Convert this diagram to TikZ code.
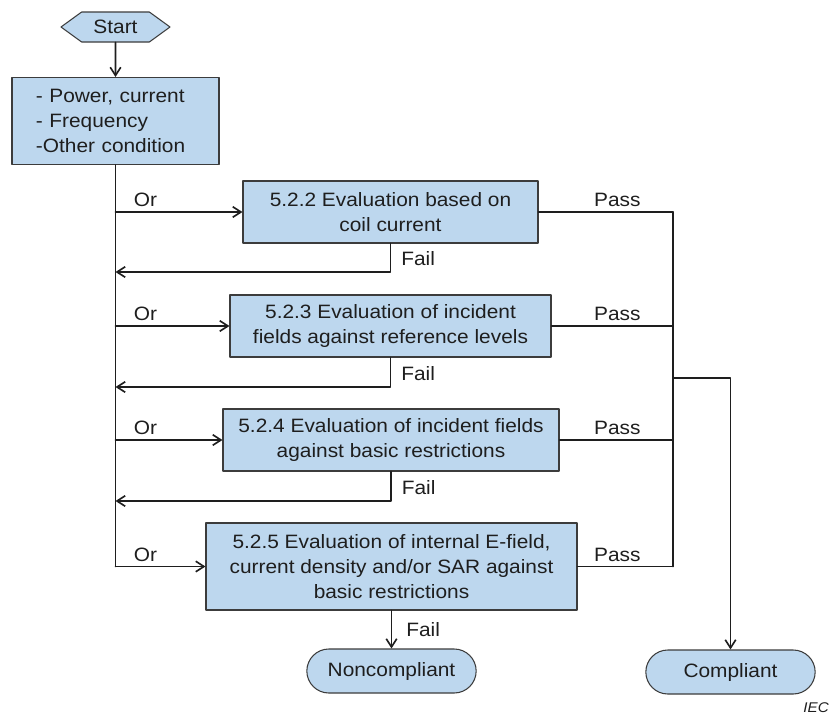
\documentclass[tikz,border=0pt]{standalone}
\usepackage{fontspec}
\setmainfont{Liberation Sans}[FakeStretch=1.08]
\usetikzlibrary{shapes.symbols,shapes.misc,arrows.meta}
\definecolor{boxblue}{RGB}{189,215,238}
\definecolor{edge}{RGB}{60,60,60}
\definecolor{ink}{RGB}{30,30,30}
\tikzset{
  flowbox/.style={draw=edge,fill=boxblue,line width=0.9pt,align=center,inner sep=2pt},
  startbox/.style={flowbox,signal,signal to=east and west,signal pointer angle=72,minimum width=3.27cm,minimum height=0.9cm},
  endbox/.style={flowbox,rounded rectangle,minimum width=5.22cm,minimum height=1.32cm},
  wire/.style={draw=ink,line width=1.4pt},
  link/.style={wire,-{Straight Barb[length=7pt,width=9pt]}},
  orlbl/.style={inner sep=0pt,anchor=south west,xshift=15pt,yshift=3.8pt},
  faillbl/.style={inner sep=0pt,anchor=south west,xshift=8.5pt,yshift=4.3pt},
  passlbl/.style={inner sep=0pt,anchor=south east,xshift=-27pt,yshift=3.5pt},
}
\begin{document}
\begin{tikzpicture}[x=0.03cm,y=-0.03cm,line join=round,line cap=round,font=\fontsize{16.5}{21.3}\selectfont,text=ink]
  \useasboundingbox (0,0) rectangle (831,718);

  \node[startbox] (start) at (115.5,27) {Start};
  \node[flowbox,align=left,minimum width=6.21cm,minimum height=2.61cm,inner xsep=0.72cm,text width=4.77cm] (cond) at (115.5,121) {- Power, current\\- Frequency\\-Other condition};
  \node[flowbox,minimum width=8.85cm,minimum height=1.86cm] (e222) at (390.5,212) {5.2.2 Evaluation based on\\coil current};
  \node[flowbox,minimum width=9.63cm,minimum height=1.86cm] (e223) at (390.5,326) {5.2.3 Evaluation of incident\\fields against reference levels};
  \node[flowbox,minimum width=10.08cm,minimum height=1.86cm] (e224) at (391,440) {5.2.4 Evaluation of incident fields\\against basic restrictions};
  \node[flowbox,minimum width=11.13cm,minimum height=2.61cm] (e225) at (391.5,566.5) {5.2.5 Evaluation of internal E-field,\\current density and/or SAR against\\basic restrictions};
  \node[endbox] (noncomp) at (391.5,671) {Noncompliant};
  \node[endbox] (comp) at (730.5,672) {Compliant};

  \node[font=\fontsize{12}{14}\selectfont\itshape,inner sep=0pt,anchor=south east] (iec) at (829,713) {IEC};

  % left side: Or / Fail
  \draw[link] (start) -- (cond);
  \draw[wire] (cond.south) -- (cond.south |- e225.west);
  \foreach \b in {e222,e223,e224,e225}
    \draw[link] (cond.south |- \b.west) -- (\b.west) node[pos=0,orlbl]{Or};
  \coordinate (r2) at (115.5,272);
  \coordinate (r3) at (115.5,387);
  \coordinate (r4) at (115.5,501);
  \draw[link] (e222.south) |- (r2) node[pos=0.5,faillbl]{Fail};
  \draw[link] (e223.south) |- (r3) node[pos=0.5,faillbl]{Fail};
  \draw[link] (e224.south) |- (r4) node[pos=0.5,faillbl]{Fail};
  \draw[link] (e225.south) -- (noncomp.north) node[midway,right,inner sep=0pt,xshift=12pt]{Fail};

  % right side: Pass
  \coordinate (rt) at (673,0);
  \foreach \b in {e222,e223,e224,e225}
    \draw[wire] (\b.east) -- (\b.east -| rt) node[pos=1,passlbl]{Pass};
  \draw[wire] (e222.east -| rt) -- (e225.east -| rt);
  \coordinate (jn) at (673,378);
  \draw[link] (jn) -| (comp.north);
\end{tikzpicture}
\end{document}
